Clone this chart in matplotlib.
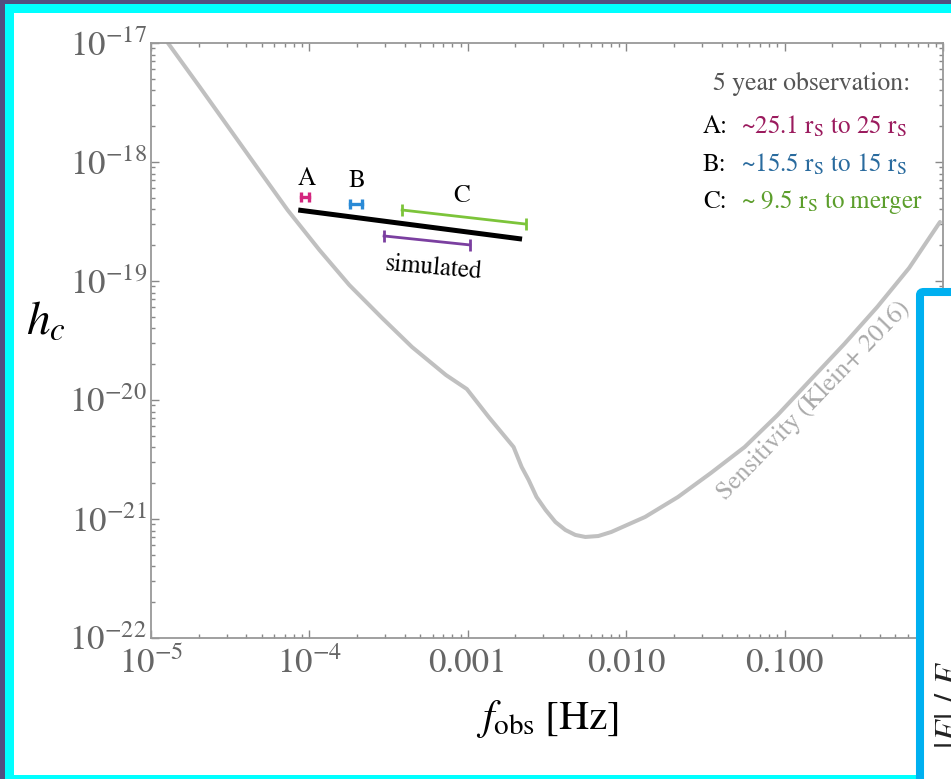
import matplotlib
matplotlib.use('Agg')
import matplotlib.pyplot as plt
from matplotlib.patches import Rectangle, FancyBboxPatch
from matplotlib.ticker import FixedLocator, FixedFormatter, LogLocator, NullFormatter

plt.rcParams['font.family'] = ['STIXGeneral', 'DejaVu Serif']
plt.rcParams['mathtext.fontset'] = 'stix'

W, H = 951, 779

# sensitivity curve (Klein+ 2016), log10 values
log_f_sens = [-4.893, -4.692, -4.503, -4.314, -4.138, -3.937, -3.748, -3.541,
              -3.352, -3.138, -3.006, -2.868, -2.711, -2.660, -2.616, -2.566,
              -2.509, -2.447, -2.384, -2.321, -2.258, -2.176, -2.094, -1.881,
              -1.673, -1.465, -1.252, -1.044, -0.837, -0.623, -0.415, -0.214,
              -0.019]
log_h_sens = [-17.000, -17.370, -17.723, -18.076, -18.403, -18.739, -19.034,
              -19.311, -19.555, -19.790, -19.908, -20.143, -20.395, -20.563,
              -20.672, -20.815, -20.924, -21.025, -21.092, -21.134, -21.151,
              -21.143, -21.109, -20.983, -20.815, -20.613, -20.395, -20.126,
              -19.832, -19.529, -19.218, -18.891, -18.504]

# black strain track and the pieces marked on it
track_f = [8.5e-5, 2.2e-3]
track_h = [3.95e-19, 2.25e-19]
seg_A_f = [8.9e-5, 1.0e-4]
seg_A_h = [5.1e-19, 5.1e-19]
seg_B_f = [1.8e-4, 2.15e-4]
seg_B_h = [4.45e-19, 4.45e-19]
seg_C_f = [3.85e-4, 2.32e-3]
seg_C_h = [3.95e-19, 3.01e-19]
seg_sim_f = [2.96e-4, 1.03e-3]
seg_sim_h = [2.39e-19, 2.01e-19]

x_ticks = [1e-5, 1e-4, 1e-3, 1e-2, 1e-1, 1e0]
x_tick_labels = [r'$10^{-5}$', r'$10^{-4}$', '0.001', '0.010', '0.100', '']
y_ticks = [1e-22, 1e-21, 1e-20, 1e-19, 1e-18, 1e-17]
y_tick_labels = [r'$10^{-22}$', r'$10^{-21}$', r'$10^{-20}$',
                 r'$10^{-19}$', r'$10^{-18}$', r'$10^{-17}$']

legend_rows = ['A:', 'B:', 'C:']
legend_texts = [r'~25.1 $\mathrm{r_S}$ to 25 $\mathrm{r_S}$',
                r'~15.5 $\mathrm{r_S}$ to 15 $\mathrm{r_S}$',
                r'~ 9.5 $\mathrm{r_S}$ to merger']
legend_colors = ['#9b1b5e', '#2a6b9e', '#5c9e2c']


def px(x, y):
    """pixel position -> figure fraction"""
    return x / W, 1 - y / H


fig = plt.figure(figsize=(W / 100, H / 100), dpi=100, facecolor='#514f80')

# slide frame
fig.add_artist(Rectangle(px(5, 790), 1000 / W, 786 / H, transform=fig.transFigure,
                         facecolor='#00ffff', edgecolor='none', zorder=-2))
fig.add_artist(Rectangle(px(14, 775), 1000 / W, 762 / H, transform=fig.transFigure,
                         facecolor='white', edgecolor='none', zorder=-1))

l, b = px(151, 638)
ax = fig.add_axes([l, b, (943 - 151) / W, (638 - 43) / H])
ax.set_facecolor('white')
ax.set_xscale('log')
ax.set_yscale('log')
ax.set_xlim(1e-5, 1)
ax.set_ylim(1e-22, 1e-17)

ax.plot([10 ** v for v in log_f_sens], [10 ** v for v in log_h_sens],
        color='#c0c0c0', lw=2.9, solid_capstyle='round', solid_joinstyle='round')
ax.plot(track_f, track_h, color='black', lw=3.6, solid_capstyle='butt')
ax.plot(seg_A_f, seg_A_h, color='#d4267f', lw=2.4, marker='|', ms=7.5, mew=2.4)
ax.plot(seg_B_f, seg_B_h, color='#2a8ad6', lw=2.4, marker='|', ms=7.5, mew=2.4)
ax.plot(seg_C_f, seg_C_h, color='#7cc43a', lw=2.0, marker='|', ms=9, mew=2.0)
ax.plot(seg_sim_f, seg_sim_h, color='#7b3fa0', lw=2.0, marker='|', ms=9, mew=2.0)

ax.text(9.6e-5, 7.2e-19, 'A', fontsize=18, ha='center', va='center')
ax.text(2.0e-4, 6.9e-19, 'B', fontsize=18, ha='center', va='center')
ax.text(9.2e-4, 5.2e-19, 'C', fontsize=18, ha='center', va='center')
ax.text(6.1e-4, 1.29e-19, 'simulated', fontsize=18, ha='center', va='center',
        rotation=-5, rotation_mode='anchor')
fig.text(*px(814, 401), 'Sensitivity (Klein+ 2016)', fontsize=18.5,
         color='#aaaaaa', ha='center', va='center',
         rotation=46, rotation_mode='anchor')

ax.xaxis.set_major_locator(FixedLocator(x_ticks))
ax.xaxis.set_major_formatter(FixedFormatter(x_tick_labels))
ax.yaxis.set_major_locator(FixedLocator(y_ticks))
ax.yaxis.set_major_formatter(FixedFormatter(y_tick_labels))
for axis in (ax.xaxis, ax.yaxis):
    axis.set_minor_locator(LogLocator(base=10, subs=range(2, 10), numticks=20))
    axis.set_minor_formatter(NullFormatter())
ax.tick_params(which='both', direction='in', top=True, right=True,
               color='#888888', labelcolor='#666666', labelsize=25, width=1)
ax.tick_params(which='major', length=6)
ax.tick_params(which='minor', length=3)
ax.tick_params(axis='x', which='major', pad=7)
ax.tick_params(axis='y', which='major', pad=3)
for s in ax.spines.values():
    s.set_color('#999999')
    s.set_linewidth(1.3)

ax.set_xlabel(r'$f_{\rm obs}\;[\rm Hz]$', fontsize=30, labelpad=12)
fig.text(*px(46, 322), r'$h_c$', fontsize=34, ha='center', va='center')

# legend block
fig.text(*px(812, 84), '5 year observation:', fontsize=18.5, color='#555555',
         ha='center', va='center')
for i, (row, txt, c) in enumerate(zip(legend_rows, legend_texts, legend_colors)):
    y = 127 + i * 37.5
    fig.text(*px(703, y), row, fontsize=18, color='black', ha='left', va='center')
    fig.text(*px(741, y), txt, fontsize=18, color=c, ha='left', va='center')

# next slide panel overlapping on the right
fig.add_artist(FancyBboxPatch(px(920, 800), 200 / W, 508 / H,
                              boxstyle='round,pad=0,rounding_size=0.004',
                              transform=fig.transFigure, facecolor='white',
                              edgecolor='#00b0f0', lw=5.8, zorder=10))
fig.text(*px(951, 705), r'$|E|\ /\ E$', fontsize=26, rotation=90,
         ha='center', va='center', color='#222222', zorder=11)

fig.savefig('out.png', dpi=100, facecolor=fig.get_facecolor())
